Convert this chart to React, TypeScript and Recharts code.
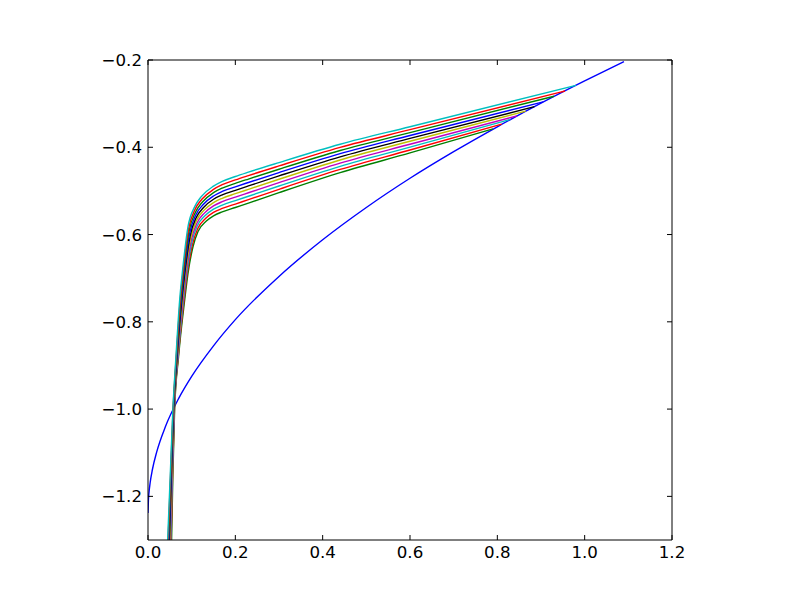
import React from 'react';
import { LineChart, Line, XAxis, YAxis } from 'recharts';

const xTicks = [0, 0.2, 0.4, 0.6, 0.8, 1.0, 1.2];
const yTicks = [-1.2, -1.0, -0.8, -0.6, -0.4, -0.2];

const boundaryCurve: number[][] = [
  [0, -1.238], [0.001, -1.207], [0.002, -1.194], [0.005, -1.168], [0.01, -1.139],
  [0.02, -1.098], [0.04, -1.04], [0.07, -0.976], [0.1, -0.925], [0.15, -0.855],
  [0.2, -0.795], [0.3, -0.696], [0.4, -0.612], [0.5, -0.538], [0.6, -0.471],
  [0.7, -0.41], [0.8, -0.353], [0.9, -0.299], [1.0, -0.248], [1.09, -0.204],
];

const fam0: number[][] = [[0.054,-1.3],[0.057,-1.15],[0.061,-1.0],[0.070,-0.88],[0.084,-0.75],[0.0916,-0.689],[0.103,-0.628],[0.1145,-0.593],[0.1336,-0.569],[0.15,-0.557],[0.17,-0.548],[0.2,-0.538],[0.23,-0.528],[0.3,-0.504],[0.44,-0.458],[0.6,-0.413],[0.79,-0.358]];
const fam1: number[][] = [[0.053,-1.3],[0.0563,-1.15],[0.0606,-1.0],[0.0693,-0.88],[0.0827,-0.75],[0.0903,-0.6873],[0.1017,-0.6229],[0.1137,-0.5867],[0.1323,-0.5628],[0.15,-0.5494],[0.17,-0.5402],[0.2,-0.5301],[0.23,-0.5201],[0.3,-0.4963],[0.44,-0.4508],[0.6,-0.4063],[0.81,-0.347]];
const fam2: number[][] = [[0.052,-1.3],[0.0557,-1.15],[0.0601,-1.0],[0.0687,-0.88],[0.0814,-0.75],[0.089,-0.6857],[0.1005,-0.6178],[0.1128,-0.5803],[0.131,-0.5566],[0.15,-0.5419],[0.17,-0.5324],[0.2,-0.5222],[0.23,-0.5122],[0.3,-0.4887],[0.44,-0.4436],[0.6,-0.3997],[0.83,-0.336]];
const fam3: number[][] = [[0.051,-1.3],[0.055,-1.15],[0.0597,-1.0],[0.068,-0.88],[0.0802,-0.75],[0.0877,-0.684],[0.0992,-0.6127],[0.112,-0.574],[0.1297,-0.5503],[0.15,-0.5343],[0.17,-0.5247],[0.2,-0.5143],[0.23,-0.5043],[0.3,-0.481],[0.44,-0.4363],[0.6,-0.393],[0.845,-0.328]];
const fam4: number[][] = [[0.050,-1.3],[0.0543,-1.15],[0.0592,-1.0],[0.0673,-0.88],[0.0789,-0.75],[0.0864,-0.6823],[0.0979,-0.6076],[0.1112,-0.5677],[0.1284,-0.5441],[0.15,-0.5268],[0.17,-0.5169],[0.2,-0.5064],[0.23,-0.4964],[0.3,-0.4733],[0.44,-0.4291],[0.6,-0.3863],[0.865,-0.317]];
const fam5: number[][] = [[0.049,-1.3],[0.0537,-1.15],[0.0588,-1.0],[0.0667,-0.88],[0.0776,-0.75],[0.0852,-0.6807],[0.0967,-0.6024],[0.1103,-0.5613],[0.1272,-0.5379],[0.15,-0.5192],[0.17,-0.5091],[0.2,-0.4986],[0.23,-0.4886],[0.3,-0.4657],[0.44,-0.4219],[0.6,-0.3797],[0.885,-0.307]];
const fam6: number[][] = [[0.048,-1.3],[0.053,-1.15],[0.0583,-1.0],[0.066,-0.88],[0.0763,-0.75],[0.0839,-0.679],[0.0954,-0.5973],[0.1095,-0.555],[0.1259,-0.5317],[0.15,-0.5117],[0.17,-0.5013],[0.2,-0.4907],[0.23,-0.4807],[0.3,-0.458],[0.44,-0.4147],[0.6,-0.373],[0.905,-0.296]];
const fam7: number[][] = [[0.047,-1.3],[0.0523,-1.15],[0.0579,-1.0],[0.0653,-0.88],[0.0751,-0.75],[0.0826,-0.6773],[0.0941,-0.5922],[0.1087,-0.5487],[0.1246,-0.5254],[0.15,-0.5041],[0.17,-0.4936],[0.2,-0.4828],[0.23,-0.4728],[0.3,-0.4503],[0.44,-0.4074],[0.6,-0.3663],[0.93,-0.283]];
const fam8: number[][] = [[0.046,-1.3],[0.0517,-1.15],[0.0574,-1.0],[0.0647,-0.88],[0.0738,-0.75],[0.0813,-0.6757],[0.0929,-0.5871],[0.1078,-0.5423],[0.1233,-0.5192],[0.15,-0.4966],[0.17,-0.4858],[0.2,-0.4749],[0.23,-0.4649],[0.3,-0.4427],[0.44,-0.4002],[0.6,-0.3597],[0.955,-0.271]];
const fam9: number[][] = [[0.045,-1.3],[0.051,-1.15],[0.057,-1.0],[0.064,-0.88],[0.0725,-0.75],[0.080,-0.674],[0.0916,-0.582],[0.107,-0.536],[0.122,-0.513],[0.15,-0.489],[0.17,-0.478],[0.2,-0.467],[0.23,-0.457],[0.3,-0.435],[0.44,-0.393],[0.6,-0.353],[0.98,-0.258]];

const families = [fam0, fam1, fam2, fam3, fam4, fam5, fam6, fam7, fam8, fam9];
const familyColors = ['#008000', '#ff0000', '#00bfbf', '#bf00bf', '#bfbf00', '#000000', '#0000ff', '#008000', '#ff0000', '#00bfbf'];
const boundaryColor = '#0000ff';

const toPts = (arr: number[][]) => arr.map(([x, y]) => ({ x, y }));

const fmt = (v: number) => v.toFixed(1).replace('-', '\u2212');
const FONT = 'DejaVu Sans';
const FS = 16.67;
const TL = 5;

const BottomTick = (props: any) => {
  const { x, y, payload } = props;
  return (
    <g>
      <line x1={x} x2={x} y1={y} y2={y - TL} stroke="#000" strokeWidth={1} />
      <text x={x} y={y + 18} textAnchor="middle" fontFamily={FONT} fontSize={FS} fill="#000">
        {fmt(payload.value)}
      </text>
    </g>
  );
};
const TopTick = (props: any) => {
  const { x, y } = props;
  return <line x1={x} x2={x} y1={y} y2={y + TL} stroke="#000" strokeWidth={1} />;
};
const LeftTick = (props: any) => {
  const { x, y, payload } = props;
  return (
    <g>
      <line x1={x} x2={x + TL} y1={y} y2={y} stroke="#000" strokeWidth={1} />
      <text x={x - 6} y={y + 6} textAnchor="end" fontFamily={FONT} fontSize={FS} fill="#000">
        {fmt(payload.value)}
      </text>
    </g>
  );
};
const RightTick = (props: any) => {
  const { x, y } = props;
  return <line x1={x} x2={x - TL} y1={y} y2={y} stroke="#000" strokeWidth={1} />;
};

export default function App() {
  return (
    <LineChart width={792} height={592} margin={{ top: 42, right: 118, bottom: 30, left: 80 }}>
      <XAxis xAxisId={0} dataKey="x" type="number" domain={[0, 1.2]} ticks={xTicks} allowDataOverflow
        height={30} tickSize={0} tickMargin={0} axisLine={{ stroke: '#000', strokeWidth: 1 }} tick={BottomTick} interval={0} />
      <XAxis xAxisId="top" orientation="top" dataKey="x" type="number" domain={[0, 1.2]} ticks={xTicks} allowDataOverflow
        height={10} tickSize={0} tickMargin={0} axisLine={{ stroke: '#000', strokeWidth: 1 }} tick={TopTick} interval={0} />
      <YAxis yAxisId={0} type="number" domain={[-1.3, -0.2]} ticks={yTicks} allowDataOverflow
        width={60} tickSize={0} tickMargin={0} axisLine={{ stroke: '#000', strokeWidth: 1 }} tick={LeftTick} interval={0} />
      <YAxis yAxisId="right" orientation="right" type="number" domain={[-1.3, -0.2]} ticks={yTicks} allowDataOverflow
        width={10} tickSize={0} tickMargin={0} axisLine={{ stroke: '#000', strokeWidth: 1 }} tick={RightTick} interval={0} />
      <Line xAxisId={0} yAxisId={0} data={toPts(boundaryCurve)} dataKey="y" type="monotone" stroke={boundaryColor}
        strokeWidth={1.4} dot={false} isAnimationActive={false} />
      {families.map((f, i) => (
        <Line key={i} xAxisId={0} yAxisId={0} data={toPts(f)} dataKey="y" type="monotone" stroke={familyColors[i]}
          strokeWidth={1.4} dot={false} isAnimationActive={false} />
      ))}
    </LineChart>
  );
}
